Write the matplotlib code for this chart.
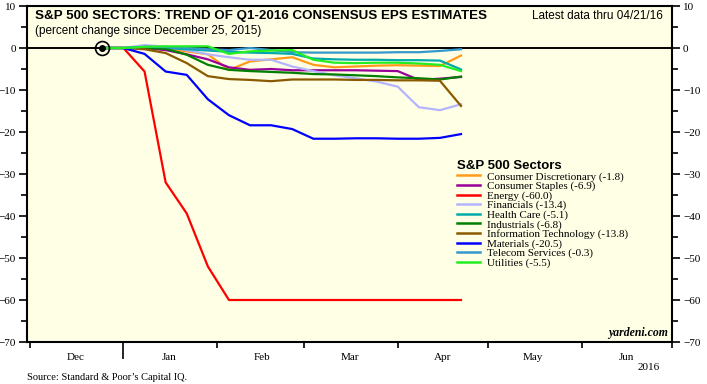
import matplotlib
matplotlib.use("Agg")
import matplotlib.pyplot as plt
import matplotlib.dates as mdates
import matplotlib.ticker as mticker
import pandas as pd

# weekly consensus readings (percent change since Dec 25, 2015)
dates = pd.to_datetime([
    "2015-12-25", "2016-01-01", "2016-01-08", "2016-01-15", "2016-01-22", "2016-01-29",
    "2016-02-05", "2016-02-12", "2016-02-19", "2016-02-26", "2016-03-04", "2016-03-11",
    "2016-03-18", "2016-03-25", "2016-04-01", "2016-04-08", "2016-04-15", "2016-04-22",
])

cons_disc = [0, 0, 0, -0.3, -0.8, -1.5, -5.2, -3.2, -2.7, -2.2, -4.0, -4.6, -4.4, -4.2, -4.1, -4.2, -4.3, -1.8]
cons_staples = [0, 0, 0, -0.5, -1.5, -2.7, -4.6, -5.2, -5.0, -5.3, -5.3, -5.3, -5.3, -5.4, -5.5, -7.6, -7.3, -6.9]
energy = [0, 0, -5.6, -32.0, -39.4, -52.0, -60.0, -60.0, -60.0, -60.0, -60.0, -60.0, -60.0, -60.0, -60.0, -60.0, -60.0, -60.0]
financials = [0, 0, 0.7, 0.3, -0.5, -1.5, -2.2, -2.8, -2.8, -4.4, -5.5, -6.5, -7.2, -8.0, -9.2, -14.1, -14.8, -13.4]
health_care = [0, 0, 0.2, 0, -0.3, -0.6, -0.9, -1.1, -1.2, -1.4, -2.5, -2.7, -2.8, -2.8, -2.9, -2.9, -3.0, -5.1]
industrials = [0, 0, 0, -0.2, -1.6, -4.0, -5.2, -5.5, -5.7, -5.9, -6.2, -6.3, -6.5, -6.7, -7.0, -7.2, -7.5, -6.8]
info_tech = [0, 0, -0.3, -1.2, -3.6, -6.7, -7.4, -7.6, -7.9, -7.5, -7.5, -7.5, -7.6, -7.6, -7.7, -7.7, -7.8, -13.8]
materials = [0, 0, -1.4, -5.6, -6.4, -12.2, -16.0, -18.4, -18.4, -19.3, -21.6, -21.6, -21.5, -21.5, -21.6, -21.6, -21.4, -20.5]
telecom = [0, 0, 0.3, 0.2, 0, -0.3, -0.5, 0.0, -0.5, -1.0, -1.1, -1.1, -1.1, -1.1, -1.0, -1.0, -0.7, -0.3]
utilities = [0, 0, 0.3, 0.4, 0.4, 0.4, -1.4, -0.8, -0.6, -0.5, -2.8, -3.5, -3.6, -3.5, -3.5, -3.7, -4.0, -5.5]

labels = ["Consumer Discretionary (-1.8)", "Consumer Staples (-6.9)", "Energy (-60.0)",
          "Financials (-13.4)", "Health Care (-5.1)", "Industrials (-6.8)",
          "Information Technology (-13.8)", "Materials (-20.5)",
          "Telecom Services (-0.3)", "Utilities (-5.5)"]
series = [cons_disc, cons_staples, energy, financials, health_care, industrials,
          info_tech, materials, telecom, utilities]
colors = ["#ff9a1a", "#990099", "#ff0000", "#b4b4ff", "#00aaaa", "#008000",
          "#8b5a00", "#0000ff", "#3399cc", "#22ee22"]

serif = "Liberation Serif"
sans = "Liberation Sans"

fig = plt.figure(figsize=(7.07, 3.84), dpi=100)
ax = fig.add_axes([27 / 707, 42 / 384, 645 / 707, 336 / 384])
ax.set_facecolor("#ffffe6")

ax.axhline(0, color="black", lw=1.4, zorder=2)
for vals, lab, c in zip(series, labels, colors):
    ax.plot(dates, vals, color=c, lw=1.6, label=lab, zorder=3)

# start marker
ax.plot(dates[0], 0, marker="o", ms=10, mfc="none", mec="black", mew=1.2, zorder=5)
ax.plot(dates[0], 0, marker="o", ms=4, color="black", zorder=5)

ax.set_xlim(pd.Timestamp("2015-11-30"), pd.Timestamp("2016-07-01"))
ax.set_ylim(-70, 10)

ax.yaxis.set_major_locator(mticker.MultipleLocator(10))
ax.yaxis.set_minor_locator(mticker.MultipleLocator(5))
ax.tick_params(axis="y", which="both", direction="out", left=True, right=True,
               labelleft=True, labelright=True, width=1.2, labelsize=8, pad=2)
ax.tick_params(axis="y", which="major", length=6)
ax.tick_params(axis="y", which="minor", length=4)

ax.xaxis.set_major_locator(mdates.MonthLocator())
ax.xaxis.set_major_formatter(mticker.NullFormatter())
ax.xaxis.set_minor_locator(mdates.MonthLocator(bymonthday=16))
ax.xaxis.set_minor_formatter(mdates.DateFormatter("%b"))
ax.tick_params(axis="x", which="major", direction="out", length=4, width=1.2)
ax.tick_params(axis="x", which="minor", length=0, labelsize=8, pad=8)
for t, loc in zip(ax.xaxis.get_major_ticks(), ax.xaxis.get_majorticklocs()):
    if mdates.num2date(loc).month == 1:
        t.tick1line.set_markersize(12)

for lab in ax.get_xticklabels(minor=True) + ax.get_yticklabels():
    lab.set_family(serif)

for s in ax.spines.values():
    s.set_linewidth(1.5)

leg = ax.legend(loc="upper left", bbox_to_anchor=(457 / 707, 1 - 160 / 384),
                bbox_transform=fig.transFigure, frameon=False, borderpad=0,
                prop={"family": serif, "size": 8}, handlelength=2.1,
                handletextpad=0.6, labelspacing=-0.04, borderaxespad=0,
                title="S&P 500 Sectors", alignment="left",
                title_fontproperties={"family": sans, "weight": "bold", "size": 9.5})
for h in leg.get_lines():
    h.set_linewidth(1.8)

fig.text(35 / 707, 1 - 16 / 384, "S&P 500 SECTORS: TREND OF Q1-2016 CONSENSUS EPS ESTIMATES",
         family=sans, weight="bold", size=9.6, va="center")
fig.text(35 / 707, 1 - 31 / 384, "(percent change since December 25, 2015)",
         family=sans, size=8.5, va="center")
fig.text(663 / 707, 1 - 16 / 384, "Latest data thru 04/21/16",
         family=sans, size=8.5, va="center", ha="right")
fig.text(668 / 707, 1 - 333 / 384, "yardeni.com", family=serif, weight="bold",
         style="italic", size=8.5, va="center", ha="right")
fig.text(660 / 707, 1 - 368 / 384, "2016", family=serif, size=8, va="center", ha="right")
fig.text(27 / 707, 1 - 378 / 384, "Source: Standard & Poor\u2019s Capital IQ.",
         family=serif, size=7.5, va="center")

fig.savefig("out.png", dpi=100)
